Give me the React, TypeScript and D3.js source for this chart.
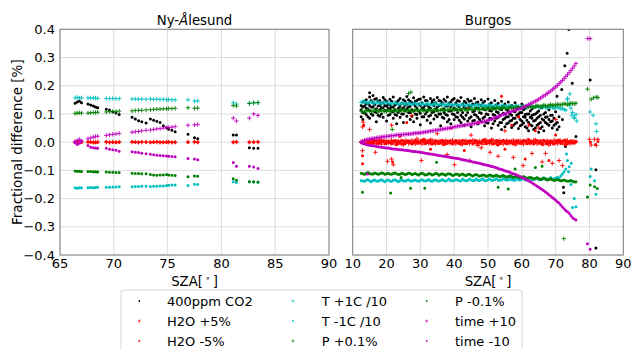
import React from 'react';
import * as d3 from 'd3';

// ---------------- DATA ----------------
const seriesLabels = ['400ppm CO2', 'H2O +5%', 'H2O -5%', 'T +1C /10', 'T -1C /10', 'P +0.1%', 'P -0.1%', 'time +10', 'time -10'];
const yTicks = [-0.4, -0.3, -0.2, -0.1, 0.0, 0.1, 0.2, 0.3, 0.4];
const leftXTicks = [65, 70, 75, 80, 85, 90];
const rightXTicks = [10, 20, 30, 40, 50, 60, 70, 80, 90];
const panelTitles = ['Ny-Ålesund', 'Burgos'];

// Ny-Ålesund
const nyaSza = [66.4, 66.6, 66.8, 67.0, 67.6, 67.85, 68.1, 68.3, 68.5, 69.3, 69.6, 69.9, 70.2, 70.5, 71.7, 72.0, 72.3, 72.6, 73.0, 73.4, 73.7, 74.0, 74.3, 74.6, 74.9, 75.1, 75.4, 75.7, 76.9, 77.5, 77.8, 81.1, 81.4, 82.6, 83.0, 83.4];
const nyaCO2 = [0.138, 0.142, 0.146, 0.140, 0.135, 0.132, 0.128, 0.125, 0.122, 0.117, 0.114, 0.108, 0.103, 0.098, 0.088, 0.082, 0.076, 0.072, 0.068, 0.082, 0.078, 0.074, 0.070, 0.058, 0.052, 0.046, 0.042, 0.037, 0.028, 0.016, 0.012, 0.025, 0.025, -0.020, -0.022, -0.022];
const nyaH2OPlus = [0.001, -0.001, 0.000, 0.001, 0.000, 0.001, -0.001, 0.000, 0.001, 0.000, -0.001, 0.001, 0.000, 0.001, 0.000, 0.001, -0.001, 0.000, 0.001, 0.000, 0.001, 0.000, -0.001, 0.000, 0.001, 0.000, -0.001, 0.000, 0.001, 0.000, 0.000, 0.000, 0.000, 0.000, 0.001, 0.000];
const nyaH2OMinus = [0.000, 0.001, -0.001, 0.000, 0.001, 0.000, 0.000, -0.001, 0.000, 0.001, 0.000, 0.000, -0.001, 0.000, 0.001, 0.000, 0.000, 0.001, 0.000, -0.001, 0.000, 0.001, 0.000, 0.000, -0.001, 0.001, 0.000, 0.000, 0.000, 0.001, 0.000, 0.000, 0.001, 0.000, 0.000, 0.001];
const nyaTPlus = [0.157, 0.159, 0.156, 0.157, 0.157, 0.156, 0.157, 0.156, 0.155, 0.155, 0.154, 0.155, 0.154, 0.154, 0.153, 0.153, 0.152, 0.153, 0.152, 0.153, 0.152, 0.153, 0.151, 0.152, 0.150, 0.151, 0.150, 0.150, 0.150, 0.145, 0.146, 0.140, 0.135, 0.138, 0.140, 0.140];
const nyaTMinus = [-0.162, -0.163, -0.162, -0.162, -0.162, -0.161, -0.162, -0.161, -0.160, -0.160, -0.160, -0.159, -0.159, -0.158, -0.158, -0.157, -0.157, -0.156, -0.156, -0.157, -0.156, -0.156, -0.155, -0.155, -0.154, -0.153, -0.152, -0.152, -0.154, -0.149, -0.150, -0.140, -0.143, -0.140, -0.141, -0.142];
const nyaPPlus = [0.102, 0.103, 0.104, 0.103, 0.103, 0.104, 0.105, 0.105, 0.106, 0.107, 0.108, 0.108, 0.109, 0.110, 0.111, 0.112, 0.113, 0.113, 0.114, 0.115, 0.116, 0.117, 0.117, 0.118, 0.118, 0.119, 0.119, 0.120, 0.122, 0.120, 0.121, 0.130, 0.128, 0.137, 0.139, 0.140];
const nyaPMinus = [-0.102, -0.103, -0.103, -0.104, -0.104, -0.104, -0.105, -0.105, -0.106, -0.106, -0.107, -0.107, -0.108, -0.108, -0.110, -0.111, -0.111, -0.112, -0.112, -0.115, -0.116, -0.117, -0.116, -0.116, -0.115, -0.116, -0.117, -0.118, -0.123, -0.120, -0.121, -0.130, -0.135, -0.140, -0.140, -0.141];
const nyaTimePlus = [0.002, 0.006, 0.010, 0.004, 0.012, 0.015, 0.018, 0.020, 0.021, 0.024, 0.026, 0.028, 0.029, 0.031, 0.035, 0.037, 0.038, 0.040, 0.042, 0.043, 0.045, 0.047, 0.048, 0.050, 0.051, 0.052, 0.053, 0.055, 0.060, 0.061, 0.063, 0.085, 0.075, 0.085, 0.100, 0.095];
const nyaTimeMinus = [-0.002, -0.008, -0.004, 0.004, -0.012, -0.018, -0.020, -0.021, -0.022, -0.022, -0.025, -0.027, -0.029, -0.032, -0.034, -0.036, -0.037, -0.039, -0.041, -0.043, -0.045, -0.046, -0.047, -0.048, -0.049, -0.050, -0.051, -0.052, -0.058, -0.060, -0.062, -0.072, -0.085, -0.085, -0.088, -0.093];

// Burgos (whole-degree samples)
const burgosSza = [
  12.5, 13, 14, 15, 16, 17, 18, 19, 20, 21,
  22, 23, 24, 25, 26, 27, 28, 29, 30, 31,
  32, 33, 34, 35, 36, 37, 38, 39, 40, 41,
  42, 43, 44, 45, 46, 47, 48, 49, 50, 51,
  52, 53, 54, 55, 56, 57, 58, 59, 60, 61,
  62, 63, 64, 65, 66, 67, 68, 69, 70, 71,
  72, 73, 74, 75, 76];
const burgosTPlus = [
  0.141, 0.143, 0.140, 0.142, 0.139, 0.141, 0.138, 0.140, 0.139, 0.137,
  0.139, 0.137, 0.136, 0.138, 0.136, 0.135, 0.137, 0.135, 0.136, 0.134,
  0.136, 0.133, 0.135, 0.133, 0.134, 0.132, 0.134, 0.131, 0.133, 0.131,
  0.132, 0.130, 0.132, 0.130, 0.131, 0.129, 0.131, 0.129, 0.130, 0.128,
  0.130, 0.128, 0.129, 0.127, 0.128, 0.126, 0.128, 0.126, 0.127, 0.125,
  0.127, 0.125, 0.126, 0.124, 0.125, 0.123, 0.124, 0.122, 0.123, 0.121,
  0.119, 0.113, 0.131, 0.105, 0.098];
const burgosTMinus = [
  -0.136, -0.138, -0.135, -0.137, -0.136, -0.138, -0.135, -0.137, -0.136, -0.138,
  -0.135, -0.137, -0.136, -0.137, -0.135, -0.138, -0.136, -0.137, -0.135, -0.137,
  -0.136, -0.138, -0.135, -0.137, -0.136, -0.137, -0.135, -0.137, -0.136, -0.134,
  -0.137, -0.135, -0.136, -0.134, -0.136, -0.135, -0.133, -0.136, -0.134, -0.135,
  -0.133, -0.135, -0.134, -0.132, -0.134, -0.133, -0.135, -0.133, -0.132, -0.134,
  -0.132, -0.133, -0.131, -0.133, -0.132, -0.130, -0.132, -0.131, -0.129, -0.128,
  -0.113, -0.095, -0.087, -0.232, -0.229];
const burgosPPlus = [
  0.110, 0.108, 0.111, 0.109, 0.110, 0.112, 0.110, 0.111, 0.109, 0.111,
  0.112, 0.110, 0.111, 0.113, 0.111, 0.112, 0.111, 0.113, 0.112, 0.111,
  0.113, 0.112, 0.114, 0.112, 0.113, 0.114, 0.113, 0.115, 0.114, 0.115,
  0.114, 0.116, 0.115, 0.116, 0.117, 0.116, 0.117, 0.118, 0.117, 0.119,
  0.118, 0.120, 0.119, 0.121, 0.120, 0.122, 0.122, 0.123, 0.124, 0.124,
  0.125, 0.126, 0.126, 0.127, 0.128, 0.129, 0.130, 0.131, 0.132, 0.133,
  0.134, 0.135, 0.136, 0.137, 0.138];
const burgosPMinus = [
  -0.110, -0.112, -0.110, -0.111, -0.113, -0.111, -0.112, -0.110, -0.112, -0.113,
  -0.111, -0.112, -0.114, -0.112, -0.113, -0.111, -0.113, -0.114, -0.112, -0.113,
  -0.115, -0.113, -0.114, -0.112, -0.114, -0.115, -0.113, -0.114, -0.116, -0.114,
  -0.115, -0.116, -0.115, -0.117, -0.116, -0.117, -0.118, -0.117, -0.119, -0.118,
  -0.119, -0.120, -0.120, -0.121, -0.122, -0.122, -0.123, -0.124, -0.125, -0.125,
  -0.126, -0.127, -0.128, -0.129, -0.130, -0.131, -0.132, -0.133, -0.134, -0.135,
  -0.136, -0.137, -0.138, -0.139, -0.140];
const burgosTimePlus = [
  0.000, 0.004, 0.008, 0.011, 0.013, 0.015, 0.017, 0.019, 0.020, 0.022,
  0.023, 0.025, 0.026, 0.027, 0.028, 0.029, 0.031, 0.032, 0.033, 0.035,
  0.037, 0.039, 0.041, 0.043, 0.045, 0.047, 0.049, 0.051, 0.054, 0.056,
  0.058, 0.060, 0.062, 0.064, 0.066, 0.069, 0.071, 0.074, 0.077, 0.082,
  0.086, 0.091, 0.096, 0.100, 0.105, 0.109, 0.113, 0.117, 0.121, 0.127,
  0.133, 0.139, 0.145, 0.152, 0.160, 0.168, 0.177, 0.186, 0.196, 0.207,
  0.219, 0.232, 0.246, 0.262, 0.279];
const burgosTimeMinus = [
  0.000, -0.004, -0.008, -0.011, -0.013, -0.015, -0.017, -0.019, -0.021, -0.022,
  -0.024, -0.025, -0.027, -0.028, -0.030, -0.031, -0.033, -0.034, -0.036, -0.038,
  -0.040, -0.042, -0.044, -0.046, -0.048, -0.050, -0.052, -0.054, -0.056, -0.058,
  -0.061, -0.063, -0.066, -0.068, -0.071, -0.074, -0.077, -0.080, -0.083, -0.086,
  -0.089, -0.093, -0.097, -0.101, -0.105, -0.110, -0.114, -0.119, -0.125, -0.131,
  -0.137, -0.144, -0.152, -0.160, -0.168, -0.177, -0.186, -0.196, -0.206, -0.216,
  -0.230, -0.242, -0.252, -0.268, -0.276];
const burgosH2OPlus = [
  0.002, -0.003, 0.004, -0.002, 0.003, -0.004, 0.001, 0.004, -0.003, 0.002,
  -0.001, 0.003, -0.004, 0.002, 0.004, -0.002, 0.001, -0.003, 0.003, -0.001,
  0.004, -0.004, 0.002, -0.002, 0.003, 0.001, -0.003, 0.004, -0.001, 0.002,
  -0.004, 0.003, -0.002, 0.001, 0.004, -0.003, 0.002, -0.001, 0.003, -0.004,
  0.001, 0.004, -0.002, 0.002, -0.003, 0.003, -0.001, 0.004, -0.004, 0.002,
  0.001, -0.002, 0.003, -0.003, 0.004, -0.001, 0.002, -0.004, 0.003, 0.001,
  -0.002, 0.004, -0.003, 0.002, 0.001];
const burgosH2OMinus = [
  -0.001, 0.003, -0.004, 0.002, -0.002, 0.004, -0.003, 0.001, 0.003, -0.002,
  0.004, -0.001, 0.002, -0.004, 0.001, 0.003, -0.003, 0.002, -0.001, 0.004,
  -0.002, 0.001, -0.004, 0.003, -0.001, 0.002, 0.004, -0.003, 0.001, -0.002,
  0.003, -0.004, 0.002, 0.004, -0.001, 0.001, -0.003, 0.003, -0.002, 0.002,
  -0.004, 0.001, 0.003, -0.001, 0.004, -0.003, 0.002, -0.002, 0.001, 0.003,
  -0.004, 0.002, -0.001, 0.004, -0.002, 0.003, -0.003, 0.001, -0.001, 0.002,
  0.003, -0.002, 0.001, -0.003, 0.002];

// Burgos (half-degree samples)
const burgosSzaHalf = [
  13.5, 14.5, 15.5, 16.5, 17.5, 18.5, 19.5, 20.5, 21.5, 22.5,
  23.5, 24.5, 25.5, 26.5, 27.5, 28.5, 29.5, 30.5, 31.5, 32.5,
  33.5, 34.5, 35.5, 36.5, 37.5, 38.5, 39.5, 40.5, 41.5, 42.5,
  43.5, 44.5, 45.5, 46.5, 47.5, 48.5, 49.5, 50.5, 51.5, 52.5,
  53.5, 54.5, 55.5, 56.5, 57.5, 58.5, 59.5, 60.5, 61.5, 62.5,
  63.5, 64.5, 65.5, 66.5, 67.5, 68.5, 69.5, 70.5, 71.5, 72.5,
  73.5, 74.5, 75.5];
const burgosTPlusHalf = [
  0.144, 0.138, 0.143, 0.137, 0.142, 0.136, 0.141, 0.139, 0.135, 0.140,
  0.134, 0.139, 0.133, 0.138, 0.134, 0.137, 0.132, 0.138, 0.133, 0.136,
  0.131, 0.137, 0.132, 0.135, 0.130, 0.136, 0.131, 0.134, 0.129, 0.135,
  0.130, 0.133, 0.128, 0.134, 0.129, 0.132, 0.127, 0.133, 0.128, 0.131,
  0.126, 0.131, 0.127, 0.130, 0.125, 0.129, 0.126, 0.128, 0.124, 0.128,
  0.123, 0.127, 0.122, 0.126, 0.121, 0.125, 0.120, 0.124, 0.118, 0.116,
  0.150, 0.120, 0.088];
const burgosTMinusHalf = [
  -0.139, -0.133, -0.140, -0.134, -0.139, -0.133, -0.140, -0.134, -0.139, -0.133,
  -0.140, -0.134, -0.139, -0.133, -0.138, -0.134, -0.139, -0.133, -0.138, -0.132,
  -0.139, -0.133, -0.138, -0.132, -0.138, -0.131, -0.137, -0.132, -0.137, -0.131,
  -0.137, -0.131, -0.136, -0.130, -0.136, -0.130, -0.136, -0.130, -0.135, -0.129,
  -0.135, -0.129, -0.134, -0.128, -0.134, -0.128, -0.133, -0.127, -0.133, -0.127,
  -0.132, -0.126, -0.132, -0.126, -0.131, -0.125, -0.130, -0.124, -0.120, -0.105,
  -0.065, -0.150, -0.200];
const burgosPPlusHalf = [
  0.107, 0.113, 0.108, 0.114, 0.108, 0.113, 0.109, 0.114, 0.109, 0.113,
  0.110, 0.115, 0.110, 0.114, 0.110, 0.115, 0.111, 0.115, 0.111, 0.116,
  0.112, 0.116, 0.112, 0.117, 0.112, 0.117, 0.113, 0.118, 0.113, 0.118,
  0.114, 0.119, 0.115, 0.120, 0.115, 0.120, 0.116, 0.121, 0.117, 0.122,
  0.118, 0.123, 0.119, 0.124, 0.120, 0.125, 0.121, 0.126, 0.123, 0.128,
  0.124, 0.129, 0.126, 0.131, 0.128, 0.133, 0.130, 0.134, 0.132, 0.136,
  0.133, 0.138, 0.136];
const burgosPMinusHalf = [
  -0.114, -0.108, -0.113, -0.109, -0.114, -0.109, -0.114, -0.110, -0.114, -0.109,
  -0.115, -0.110, -0.115, -0.110, -0.115, -0.111, -0.116, -0.110, -0.116, -0.111,
  -0.116, -0.111, -0.117, -0.112, -0.117, -0.112, -0.118, -0.113, -0.118, -0.113,
  -0.119, -0.114, -0.120, -0.115, -0.121, -0.116, -0.122, -0.116, -0.122, -0.117,
  -0.123, -0.118, -0.124, -0.119, -0.125, -0.121, -0.127, -0.122, -0.128, -0.124,
  -0.130, -0.126, -0.132, -0.128, -0.134, -0.130, -0.136, -0.132, -0.137, -0.134,
  -0.139, -0.136, -0.141];
const burgosTimePlusHalf = [
  0.006, 0.010, 0.012, 0.014, 0.016, 0.018, 0.020, 0.021, 0.023, 0.024,
  0.026, 0.027, 0.028, 0.029, 0.030, 0.032, 0.033, 0.034, 0.036, 0.038,
  0.040, 0.042, 0.044, 0.046, 0.048, 0.050, 0.052, 0.055, 0.057, 0.059,
  0.061, 0.063, 0.065, 0.067, 0.070, 0.072, 0.075, 0.079, 0.084, 0.088,
  0.093, 0.098, 0.102, 0.107, 0.111, 0.115, 0.119, 0.124, 0.130, 0.136,
  0.142, 0.148, 0.156, 0.164, 0.172, 0.181, 0.191, 0.201, 0.213, 0.225,
  0.239, 0.254, 0.270];
const burgosTimeMinusHalf = [
  -0.006, -0.010, -0.012, -0.014, -0.016, -0.018, -0.020, -0.021, -0.023, -0.024,
  -0.026, -0.027, -0.029, -0.030, -0.032, -0.033, -0.035, -0.037, -0.039, -0.041,
  -0.043, -0.045, -0.047, -0.049, -0.051, -0.053, -0.055, -0.057, -0.059, -0.062,
  -0.064, -0.067, -0.070, -0.072, -0.075, -0.078, -0.081, -0.084, -0.087, -0.091,
  -0.095, -0.099, -0.103, -0.107, -0.112, -0.116, -0.122, -0.128, -0.134, -0.140,
  -0.148, -0.156, -0.164, -0.172, -0.181, -0.191, -0.201, -0.211, -0.223, -0.236,
  -0.247, -0.260, -0.272];
const burgosH2OPlusHalf = [
  0.006, -0.005, 0.007, -0.006, 0.005, -0.007, 0.006, -0.004, 0.007, -0.006,
  0.005, -0.007, 0.006, -0.005, 0.007, -0.006, 0.004, -0.007, 0.006, -0.005,
  0.007, -0.006, 0.005, -0.007, 0.006, -0.004, 0.007, -0.006, 0.005, -0.007,
  0.006, -0.005, 0.007, -0.006, 0.004, -0.007, 0.006, -0.005, 0.007, -0.006,
  0.005, -0.007, 0.006, -0.004, 0.007, -0.006, 0.005, -0.007, 0.006, -0.005,
  0.007, -0.006, 0.004, -0.007, 0.006, -0.005, 0.007, -0.006, 0.005, -0.007,
  0.006, -0.005, 0.004];
const burgosH2OMinusHalf = [
  -0.006, 0.005, -0.007, 0.006, -0.005, 0.007, -0.006, 0.004, -0.007, 0.006,
  -0.005, 0.007, -0.006, 0.005, -0.007, 0.006, -0.004, 0.007, -0.006, 0.005,
  -0.007, 0.006, -0.005, 0.007, -0.006, 0.004, -0.007, 0.006, -0.005, 0.007,
  -0.006, 0.005, -0.007, 0.006, -0.004, 0.007, -0.006, 0.005, -0.007, 0.006,
  -0.005, 0.007, -0.006, 0.004, -0.007, 0.006, -0.005, 0.007, -0.006, 0.005,
  -0.007, 0.006, -0.004, 0.007, -0.006, 0.005, -0.007, 0.006, -0.005, 0.007,
  -0.006, 0.005, -0.004];

// Burgos scattered observations [SZA, value]
const burgosCO2Pts = [
  [12.5, 0.13], [12.5, 0.115], [12.5, 0.09], [13, 0.142], [13, 0.105], [13, 0.125], [13, 0.08],
  [14, 0.15], [14, 0.12], [14, 0.098], [14, 0.135], [15, 0.175], [15, 0.16], [15, 0.112], [15, 0.085], [15, 0.13],
  [16, 0.165], [16, 0.125], [16, 0.14], [16, 0.095], [17, 0.155], [17, 0.118], [17, 0.105], [17, 0.072],
  [18, 0.148], [18, 0.13], [18, 0.092], [18, 0.115], [19, 0.158], [19, 0.122], [19, 0.088], [19, 0.14],
  [20, 0.145], [20, 0.11], [20, 0.128], [20, 0.075], [21, 0.152], [21, 0.118], [21, 0.098], [21, 0.132],
  [22, 0.16], [22, 0.125], [22, 0.085], [22, 0.108], [23, 0.142], [23, 0.135], [23, 0.095], [23, 0.065],
  [24, 0.155], [24, 0.112], [24, 0.128], [24, 0.088], [25, 0.15], [25, 0.1], [25, 0.122], [25, 0.07],
  [26, 0.162], [26, 0.118], [26, 0.092], [26, 0.135], [27, 0.145], [27, 0.127], [27, 0.08], [27, 0.105],
  [28, 0.157], [28, 0.11], [28, 0.135], [28, 0.072], [29, 0.148], [29, 0.098], [29, 0.12], [29, 0.085],
  [30, 0.153], [30, 0.13], [30, 0.102], [30, 0.062], [31, 0.16], [31, 0.115], [31, 0.09], [31, 0.125],
  [32, 0.147], [32, 0.133], [32, 0.078], [32, 0.108], [33, 0.155], [33, 0.12], [33, 0.095], [33, 0.068],
  [34, 0.15], [34, 0.108], [34, 0.13], [34, 0.082], [35, 0.158], [35, 0.125], [35, 0.09], [35, 0.112],
  [36, 0.146], [36, 0.1], [36, 0.132], [36, 0.058], [37, 0.152], [37, 0.118], [37, 0.085], [37, 0.105],
  [38, 0.16], [38, 0.128], [38, 0.095], [38, 0.072], [39, 0.143], [39, 0.11], [39, 0.125], [39, 0.065],
  [40, 0.155], [40, 0.098], [40, 0.12], [40, 0.08], [41, 0.148], [41, 0.13], [41, 0.088], [41, 0.105],
  [42, 0.158], [42, 0.115], [42, 0.07], [42, 0.095], [43, 0.145], [43, 0.125], [43, 0.082], [43, 0.06],
  [44, 0.152], [44, 0.105], [44, 0.118], [44, 0.075], [45, 0.147], [45, 0.128], [45, 0.09], [45, 0.055],
  [46, 0.155], [46, 0.11], [46, 0.078], [46, 0.098], [47, 0.142], [47, 0.12], [47, 0.065], [47, 0.088],
  [48, 0.15], [48, 0.102], [48, 0.13], [48, 0.072], [49, 0.145], [49, 0.115], [49, 0.058], [49, 0.09],
  [50, 0.153], [50, 0.098], [50, 0.125], [50, 0.068], [51, 0.14], [51, 0.11], [51, 0.082], [51, 0.05],
  [52, 0.148], [52, 0.12], [52, 0.075], [52, 0.095], [53, 0.138], [53, 0.105], [53, 0.06], [53, 0.088],
  [54, 0.145], [54, 0.115], [54, 0.07], [54, 0.045], [55, 0.135], [55, 0.1], [55, 0.085], [55, 0.055],
  [56, 0.142], [56, 0.112], [56, 0.068], [56, 0.09], [57, 0.13], [57, 0.095], [57, 0.052], [57, 0.078],
  [58, 0.14], [58, 0.108], [58, 0.065], [58, 0.085], [59, 0.125], [59, 0.09], [59, 0.048], [59, 0.1],
  [60, 0.135], [60, 0.105], [60, 0.062], [60, 0.075], [61, 0.12], [61, 0.088], [61, 0.055], [61, 0.098],
  [62, 0.13], [62, 0.1], [62, 0.07], [62, 0.04], [63, 0.118], [63, 0.085], [63, 0.058], [63, 0.095],
  [64, 0.125], [64, 0.078], [64, 0.05], [64, 0.1], [65, 0.11], [65, 0.09], [65, 0.065], [65, 0.035],
  [66, 0.122], [66, 0.082], [66, 0.055], [67, 0.105], [67, 0.07], [67, 0.088], [68, 0.115], [68, 0.06], [68, 0.08],
  [69, 0.095], [69, 0.05], [69, 0.075], [70, 0.108], [70, 0.065], [70.4, 0.163], [71, 0.09], [71, 0.055],
  [72, 0.08], [71.8, 0.187], [72.4, -0.179], [72.7, 0.271], [72.9, -0.015], [72.3, -0.16], [73.4, 0.315],
  [73.9, 0.399], [74.9, 0.209], [76, 0.02], [80.2, 0.22], [81.9, -0.098], [81.9, -0.375],
  [13.5, 0.128], [13.5, 0.102], [13.5, 0.145], [14.5, 0.118], [14.5, 0.138], [14.5, 0.09], [15.5, 0.125], [15.5, 0.148], [15.5, 0.1],
  [16.5, 0.108], [16.5, 0.133], [16.5, 0.152], [17.5, 0.128], [17.5, 0.145], [17.5, 0.095], [18.5, 0.122], [18.5, 0.1], [18.5, 0.138],
  [19.5, 0.112], [19.5, 0.15], [19.5, 0.13], [20.5, 0.135], [20.5, 0.095], [20.5, 0.12], [21.5, 0.108], [21.5, 0.145], [21.5, 0.125],
  [22.5, 0.132], [22.5, 0.115], [22.5, 0.098], [23.5, 0.12], [23.5, 0.148], [23.5, 0.105], [24.5, 0.138], [24.5, 0.1], [24.5, 0.118],
  [25.5, 0.13], [25.5, 0.112], [25.5, 0.145], [26.5, 0.105], [26.5, 0.125], [26.5, 0.15], [27.5, 0.115], [27.5, 0.14], [27.5, 0.092],
  [28.5, 0.128], [28.5, 0.1], [28.5, 0.145], [29.5, 0.11], [29.5, 0.135], [29.5, 0.152], [30.5, 0.12], [30.5, 0.14], [30.5, 0.09],
  [31.5, 0.1], [31.5, 0.13], [31.5, 0.148], [32.5, 0.125], [32.5, 0.115], [32.5, 0.092], [33.5, 0.138], [33.5, 0.105], [33.5, 0.145],
  [34.5, 0.118], [34.5, 0.095], [34.5, 0.14], [35.5, 0.13], [35.5, 0.1], [35.5, 0.148], [36.5, 0.115], [36.5, 0.14], [36.5, 0.088],
  [37.5, 0.128], [37.5, 0.098], [37.5, 0.145], [38.5, 0.11], [38.5, 0.138], [38.5, 0.08], [39.5, 0.132], [39.5, 0.1], [39.5, 0.15],
  [40.5, 0.115], [40.5, 0.14], [40.5, 0.09], [41.5, 0.125], [41.5, 0.078], [41.5, 0.145], [42.5, 0.105], [42.5, 0.135], [42.5, 0.088],
  [43.5, 0.118], [43.5, 0.14], [43.5, 0.095], [44.5, 0.128], [44.5, 0.085], [44.5, 0.145], [45.5, 0.108], [45.5, 0.135], [45.5, 0.075],
  [46.5, 0.12], [46.5, 0.095], [46.5, 0.14], [47.5, 0.105], [47.5, 0.132], [47.5, 0.08], [48.5, 0.118], [48.5, 0.085], [48.5, 0.14],
  [49.5, 0.1], [49.5, 0.128], [49.5, 0.07], [50.5, 0.112], [50.5, 0.085], [50.5, 0.135], [51.5, 0.098], [51.5, 0.125], [51.5, 0.065],
  [52.5, 0.108], [52.5, 0.085], [52.5, 0.132], [53.5, 0.095], [53.5, 0.12], [53.5, 0.07], [54.5, 0.102], [54.5, 0.08], [54.5, 0.128],
  [55.5, 0.09], [55.5, 0.115], [55.5, 0.065], [56.5, 0.1], [56.5, 0.075], [56.5, 0.125], [57.5, 0.085], [57.5, 0.11], [57.5, 0.06],
  [58.5, 0.095], [58.5, 0.07], [58.5, 0.118], [59.5, 0.08], [59.5, 0.105], [59.5, 0.058], [60.5, 0.09], [60.5, 0.068], [60.5, 0.115],
  [61.5, 0.078], [61.5, 0.1], [61.5, 0.05], [62.5, 0.088], [62.5, 0.062], [62.5, 0.11], [63.5, 0.075], [63.5, 0.098], [63.5, 0.045],
  [64.5, 0.085], [64.5, 0.06], [64.5, 0.105], [65.5, 0.07], [65.5, 0.095], [65.5, 0.048], [66.5, 0.078], [66.5, 0.1], [66.5, 0.04],
  [67.5, 0.065], [67.5, 0.09], [68.5, 0.072], [68.5, 0.095], [69.5, 0.06], [69.5, 0.085], [70.5, 0.07], [70.5, 0.045]];
const burgosH2OPlusPts = [
  [12.9, 0.054], [13.1, 0.071], [15, 0.045], [21.5, 0.06], [27.4, 0.095], [12.9, -0.03], [16.7, -0.036],
  [20.3, -0.068], [21.5, -0.06], [22, -0.08], [30.3, -0.065], [37.9, -0.044], [40.1, -0.08], [44.6, -0.065],
  [50.6, -0.036], [57.5, -0.054], [60.4, -0.083], [63, -0.04], [67, -0.04], [72, -0.083], [35, 0.03], [45, 0.025],
  [55, 0.04], [62, 0.06], [65, 0.05], [70, 0.08], [48, -0.02], [53, -0.05], [66, -0.07], [69, -0.075], [71, -0.065],
  [80, 0.01], [81.5, 0.01], [82.5, 0.01], [80.5, -0.01], [82, -0.012], [18, 0.008], [25, -0.009], [33, 0.009],
  [42, -0.008], [51, 0.009], [58, -0.009], [64, 0.008], [68, -0.01], [73, 0.006], [29, 0.012], [47, -0.012]];
const burgosH2OMinusPts = [
  [12.9, -0.048], [12.9, -0.077], [13.3, 0.06], [21.8, -0.07], [24, 0.02], [33, -0.025], [39, 0.05], [47, 0.07],
  [55, -0.025], [59, 0.09], [61, -0.06], [64, 0.04], [68, -0.065], [70, 0.025], [73, -0.01], [26, 0.07], [43, -0.03],
  [57, 0.06], [54, 0.163], [44, 0.12], [80.3, 0.0], [81.8, -0.008], [82.5, 0.002], [16, 0.008], [23, -0.009],
  [31, 0.01], [37, -0.008], [49, 0.009], [53, -0.01], [62, 0.009], [66, -0.008], [71, 0.008]];
const burgosTPlusPts = [[74.2, 0.171], [73.5, 0.155], [75.5, 0.085], [76.2, 0.075], [74.8, 0.095], [80.2, 0.107], [81.1, 0.095], [81.9, 0.065], [82.1, 0.038]];
const burgosTMinusPts = [[73.2, -0.042], [74.6, -0.075], [73.8, -0.105], [80.2, -0.122], [81.5, -0.137], [81.9, -0.185], [80.5, -0.095]];
const burgosPPlusPts = [[26.5, 0.172], [27.2, 0.177], [21.7, 0.045], [79.4, 0.188], [80.5, 0.152], [81.2, 0.157], [82, 0.16], [82.5, 0.158], [72.4, -0.342]];
const burgosPMinusPts = [[12.9, -0.178], [21.2, -0.18], [27.1, -0.163], [31.3, -0.163], [24.3, -0.125], [34.8, -0.071], [53, -0.16], [56, -0.166], [58, -0.095], [64, -0.09], [66, -0.085], [79.4, -0.194], [80.2, -0.152], [81.5, -0.158], [82.3, -0.164]];
const burgosTimePlusPts = [[79.5, 0.367], [80.2, 0.367]];
const burgosTimeMinusPts = [[79.4, -0.36], [80.2, -0.38], [14.4, -0.113]];

// ---------------- STYLE ----------------
const seriesColors = ['#000000', '#ff0000', '#ff0000', '#00bfbf', '#00bfbf', '#008000', '#008000', '#bf00bf', '#bf00bf'];
const seriesMarkers = ['dot', 'plus', 'dot', 'plus', 'dot', 'plus', 'dot', 'plus', 'dot'];
const FONT = "'DejaVu Sans', sans-serif";

const zip = (xs: number[], vs: number[]) => xs.map((x, i) => [x, vs[i]]);

const leftSeries = [nyaCO2, nyaH2OPlus, nyaH2OMinus, nyaTPlus, nyaTMinus, nyaPPlus, nyaPMinus, nyaTimePlus, nyaTimeMinus].map((v) => zip(nyaSza, v));
const rightSeries = [
  burgosCO2Pts,
  zip(burgosSza, burgosH2OPlus).concat(zip(burgosSzaHalf, burgosH2OPlusHalf), burgosH2OPlusPts),
  zip(burgosSza, burgosH2OMinus).concat(zip(burgosSzaHalf, burgosH2OMinusHalf), burgosH2OMinusPts),
  zip(burgosSza, burgosTPlus).concat(zip(burgosSzaHalf, burgosTPlusHalf), burgosTPlusPts),
  zip(burgosSza, burgosTMinus).concat(zip(burgosSzaHalf, burgosTMinusHalf), burgosTMinusPts),
  zip(burgosSza, burgosPPlus).concat(zip(burgosSzaHalf, burgosPPlusHalf), burgosPPlusPts),
  zip(burgosSza, burgosPMinus).concat(zip(burgosSzaHalf, burgosPMinusHalf), burgosPMinusPts),
  zip(burgosSza, burgosTimePlus).concat(zip(burgosSzaHalf, burgosTimePlusHalf), burgosTimePlusPts),
  zip(burgosSza, burgosTimeMinus).concat(zip(burgosSzaHalf, burgosTimeMinusHalf), burgosTimeMinusPts),
];

const W = 631, H = 349;
const TOP = 29.3, BOTTOM = 255;
const yScale = d3.scaleLinear().domain([-0.4, 0.4]).range([BOTTOM, TOP]);
const xLeft = d3.scaleLinear().domain([65, 90]).range([60, 329]);
const xRight = d3.scaleLinear().domain([10, 90]).range([352.7, 623.3]);

function markerPath(points: number[][], xs: any, ys: any, marker: string, s: number) {
  let d = '';
  for (const [sx, v] of points) {
    const x = xs(sx), y = ys(v);
    if (marker === 'plus') d += `M${x - s},${y}H${x + s}M${x},${y - s}V${y + s}`;
    else d += `M${x - s},${y}a${s},${s} 0 1,0 ${2 * s},0a${s},${s} 0 1,0 ${-2 * s},0`;
  }
  return d;
}

function fmt(v: number) {
  const s = Math.abs(v).toFixed(1);
  return v < -1e-9 ? '\u2212' + s : s;
}

function Panel({ xs, xTicks, series, title, showY, clipId }: any) {
  const [x0, x1] = xs.range();
  return (
    <g>
      <defs>
        <clipPath id={clipId}><rect x={x0} y={TOP} width={x1 - x0} height={BOTTOM - TOP} /></clipPath>
      </defs>
      {xTicks.map((t: number) => (
        <line key={'gx' + t} x1={xs(t)} x2={xs(t)} y1={TOP} y2={BOTTOM} stroke="#d3d3d3" strokeWidth={0.8} />
      ))}
      {yTicks.map((t) => (
        <line key={'gy' + t} x1={x0} x2={x1} y1={yScale(t)} y2={yScale(t)} stroke="#d3d3d3" strokeWidth={0.8} />
      ))}
      <g clipPath={`url(#${clipId})`}>
        {series.map((pts: number[][], i: number) =>
          seriesMarkers[i] === 'plus' ? (
            <path key={i} d={markerPath(pts, xs, yScale, 'plus', 2.2)} stroke={seriesColors[i]} strokeWidth={0.9} fill="none" />
          ) : (
            <path key={i} d={markerPath(pts, xs, yScale, 'dot', 1.5)} fill={seriesColors[i]} />
          )
        )}
      </g>
      <rect x={x0} y={TOP} width={x1 - x0} height={BOTTOM - TOP} fill="none" stroke="#808080" strokeWidth={1} />
      {xTicks.map((t: number) => (
        <text key={'xt' + t} x={xs(t)} y={268} textAnchor="middle" fontSize={13} fontFamily={FONT} fill="#000">{t}</text>
      ))}
      {showY && yTicks.map((t) => (
        <text key={'yt' + t} x={x0 - 5} y={yScale(t)} dy="0.36em" textAnchor="end" fontSize={13} fontFamily={FONT} fill="#000">{fmt(t)}</text>
      ))}
      <text x={(x0 + x1) / 2} y={25} textAnchor="middle" fontSize={13.3} fontFamily={FONT} fill="#000">
        {title === 'Ny-Ålesund' ? (<>Ny-<tspan fontStyle="italic">Å</tspan>lesund</>) : title}
      </text>
      <text x={(x0 + x1) / 2} y={286} textAnchor="middle" fontSize={13.3} fontFamily={FONT} fill="#000">
        SZA[<tspan fontSize={9} dy={-5} dx={2}>∘</tspan><tspan dy={5} dx={2}>]</tspan>
      </text>
    </g>
  );
}

function Legend() {
  const colX = [139.3, 293, 426.7];
  const textX = [167, 321.7, 455];
  const rowY = [301, 321, 341];
  return (
    <g>
      <rect x={121} y={290} width={401} height={70} rx={3} fill="#fff" fillOpacity={0.8} stroke="#cccccc" strokeWidth={0.8} />
      {seriesLabels.map((lab, i) => {
        const c = Math.floor(i / 3), r = i % 3;
        const mx = colX[c], my = rowY[r];
        const pt = [[0, 0]];
        const sx = (v: number) => mx + v, sy = (v: number) => my + v;
        return (
          <g key={lab}>
            {seriesMarkers[i] === 'plus' ? (
              <path d={markerPath(pt, sx, sy, 'plus', 1.5)} stroke={seriesColors[i]} strokeWidth={0.7} fill="none" />
            ) : (
              <path d={markerPath(pt, sx, sy, 'dot', 0.9)} fill={seriesColors[i]} />
            )}
            <text x={textX[c]} y={my + 4.5} fontSize={13} fontFamily={FONT} fill="#000">{lab}</text>
          </g>
        );
      })}
    </g>
  );
}

export default function App() {
  return (
    <svg width={W} height={H} viewBox={`0 0 ${W} ${H}`} style={{ position: 'absolute', left: 0, top: 0, background: '#fff' }}>
      <rect x={0} y={0} width={W} height={H} fill="#fff" />
      <Panel xs={xLeft} xTicks={leftXTicks} series={leftSeries} title={panelTitles[0]} showY={true} clipId="clipL" />
      <Panel xs={xRight} xTicks={rightXTicks} series={rightSeries} title={panelTitles[1]} showY={false} clipId="clipR" />
      <text transform={`translate(22,${(TOP + BOTTOM) / 2}) rotate(-90)`} textAnchor="middle" fontSize={13.5} fontFamily={FONT} fill="#000">
        Fractional difference [%]
      </text>
      <Legend />
    </svg>
  );
}
